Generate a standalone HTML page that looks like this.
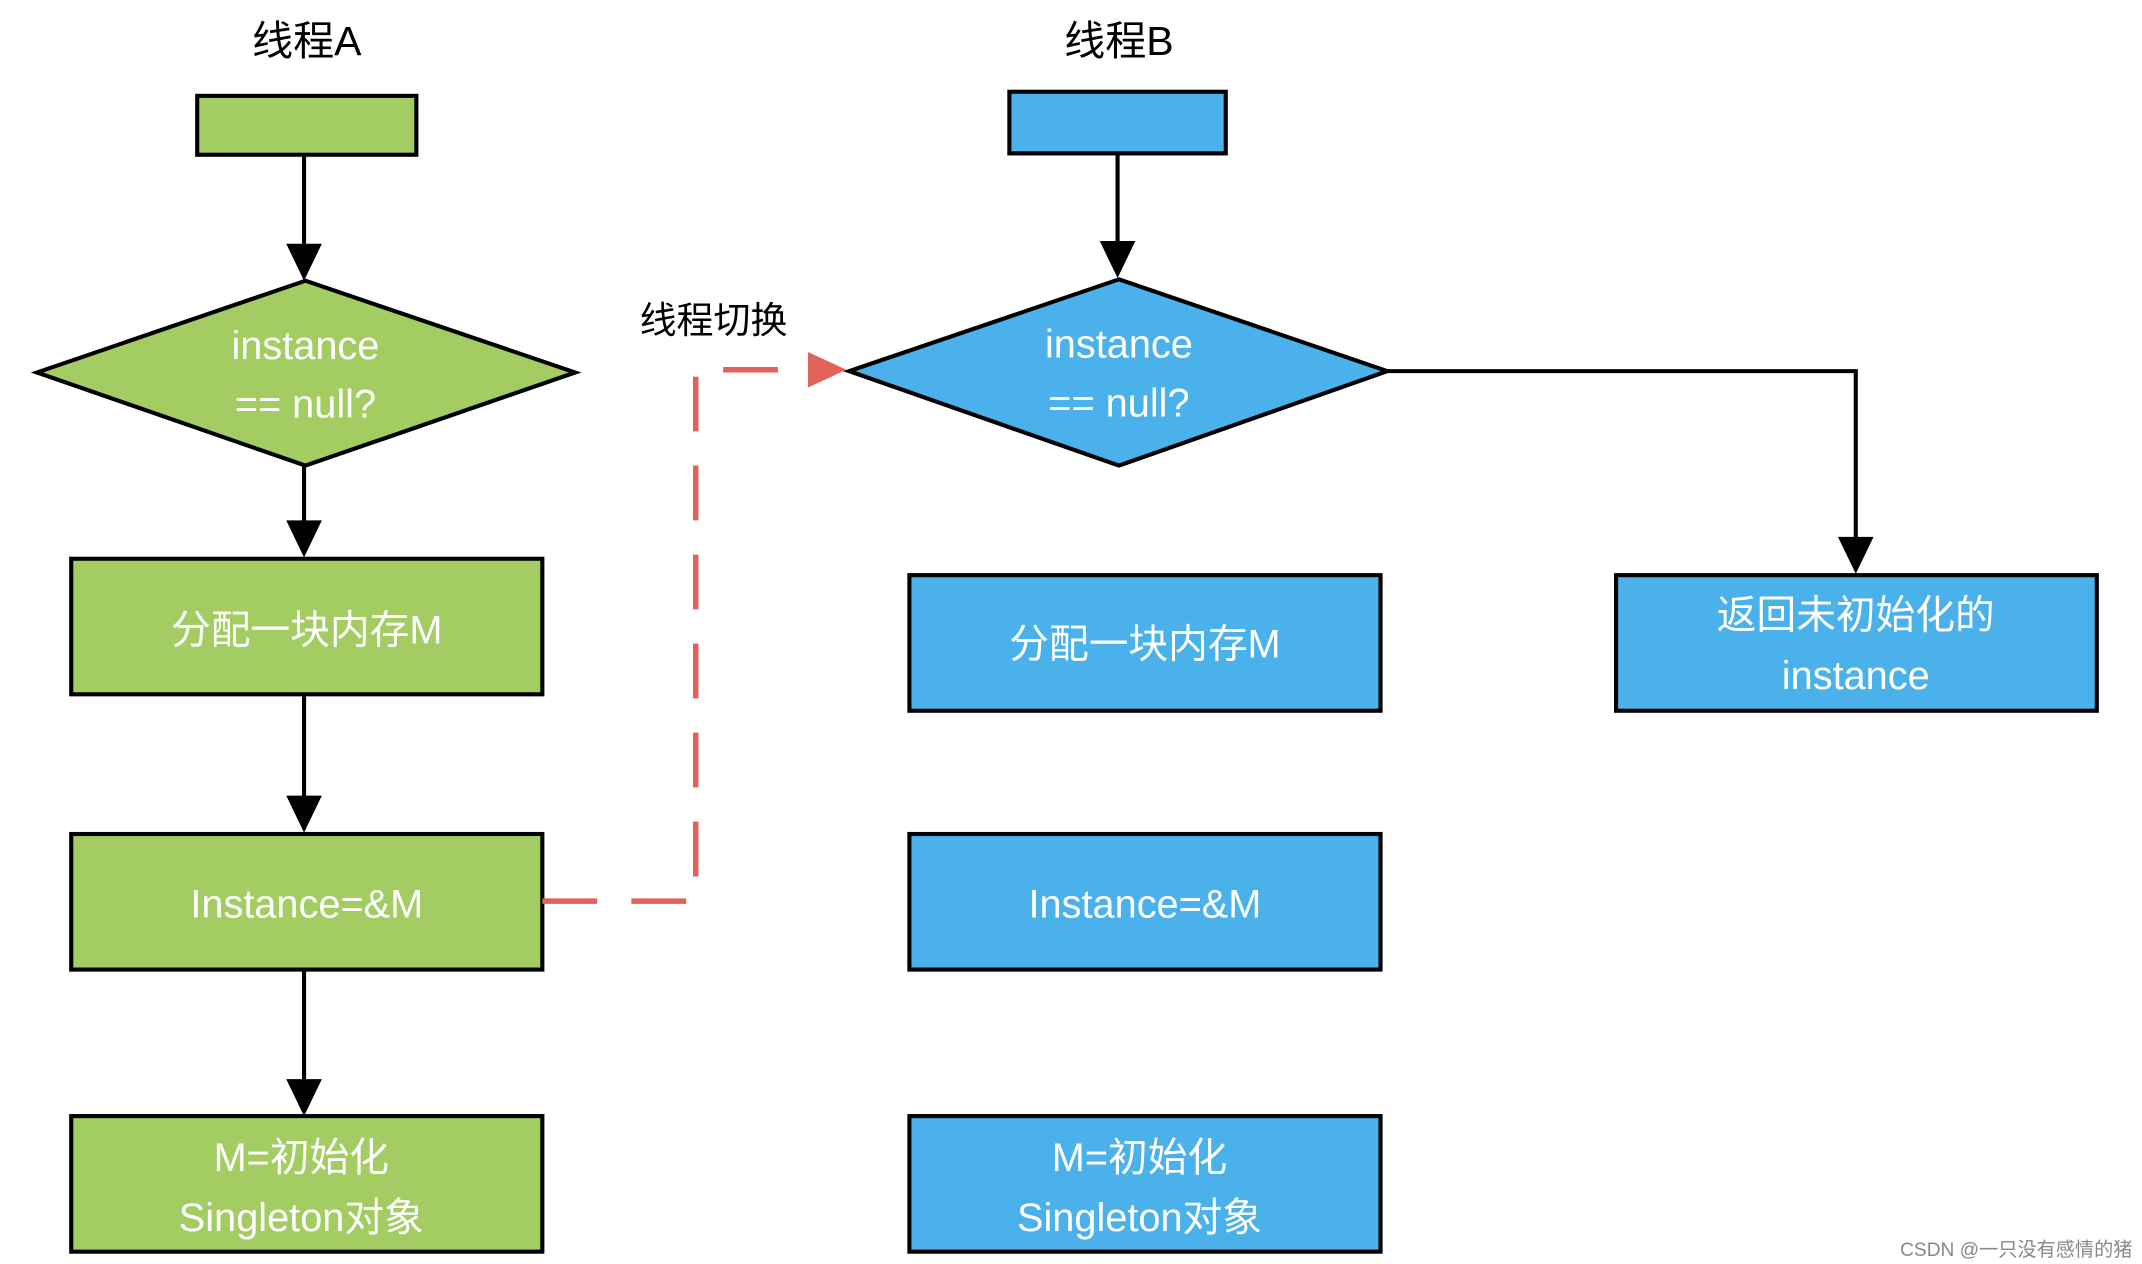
<!DOCTYPE html>
<html><head><meta charset="utf-8"><style>
html,body{margin:0;padding:0;background:#fff;}
svg{display:block;}
text{font-family:"Liberation Sans","Noto Sans CJK SC",sans-serif;}
</style></head><body>
<svg width="2142" height="1264" viewBox="0 0 1564 923" preserveAspectRatio="none" xmlns="http://www.w3.org/2000/svg">
<defs>
<marker id="ah" markerWidth="10" markerHeight="10" refX="9" refY="5" orient="auto" markerUnits="userSpaceOnUse" viewBox="0 0 10 10">
</marker>
</defs>
<g fill="#000" font-size="30">
<text x="224" y="40" text-anchor="middle">线程A</text>
<text x="817" y="40" text-anchor="middle">线程B</text>
<text x="521" y="243" text-anchor="middle" font-size="27">线程切换</text>
</g>
<g stroke="#000" stroke-width="3">
<rect x="144" y="70" width="160" height="43" fill="#a3cd62"/>
<rect x="737" y="67" width="158" height="45" fill="#4ab1ea"/>
<polygon points="223,205 420,272 223,340 27,272" fill="#a3cd62"/>
<polygon points="817,204 1013,271 817,340 620,271" fill="#4ab1ea"/>
<rect x="52" y="408" width="344" height="99" fill="#a3cd62"/>
<rect x="52" y="609" width="344" height="99" fill="#a3cd62"/>
<rect x="52" y="815" width="344" height="99" fill="#a3cd62"/>
<rect x="664" y="420" width="344" height="99" fill="#4ab1ea"/>
<rect x="664" y="609" width="344" height="99" fill="#4ab1ea"/>
<rect x="664" y="815" width="344" height="99" fill="#4ab1ea"/>
<rect x="1180" y="420" width="351" height="99" fill="#4ab1ea"/>
<line x1="222" y1="113" x2="222" y2="180"/>
<line x1="816" y1="112" x2="816" y2="178"/>
<line x1="222" y1="340" x2="222" y2="382"/>
<line x1="222" y1="507" x2="222" y2="583"/>
<line x1="222" y1="708" x2="222" y2="790"/>
<polyline points="1013,271 1355,271 1355,393" fill="none"/>
</g>
<g fill="#000">
<polygon points="209,178 235,178 222,205"/>
<polygon points="803,176 829,176 816,203"/>
<polygon points="209,380 235,380 222,407"/>
<polygon points="209,581 235,581 222,608"/>
<polygon points="209,788 235,788 222,815"/>
<polygon points="1342,392 1368,392 1355,419"/>
</g>
<polyline points="396,658 508,658 508,270 592,270" fill="none" stroke="#e0625a" stroke-width="4" stroke-dasharray="40,25"/>
<polygon points="590,257 618,270 590,283" fill="#e0625a"/>
<g fill="#fff" font-size="29" text-anchor="middle">
<text x="223" y="262">instance</text>
<text x="223" y="305">== null?</text>
<text x="817" y="261">instance</text>
<text x="817" y="304">== null?</text>
<text x="224" y="470">分配一块内存M</text>
<text x="224" y="670">Instance=&amp;M</text>
<text x="220" y="855">M=初始化</text>
<text x="220" y="899">Singleton对象</text>
<text x="836" y="480">分配一块内存M</text>
<text x="836" y="670">Instance=&amp;M</text>
<text x="832" y="855">M=初始化</text>
<text x="832" y="899">Singleton对象</text>
<text x="1355" y="459">返回未初始化的</text>
<text x="1355" y="503">instance</text>
</g>
<text x="1557" y="917" text-anchor="end" font-size="14" fill="#888">CSDN @一只没有感情的猪</text>
</svg>
</body></html>
